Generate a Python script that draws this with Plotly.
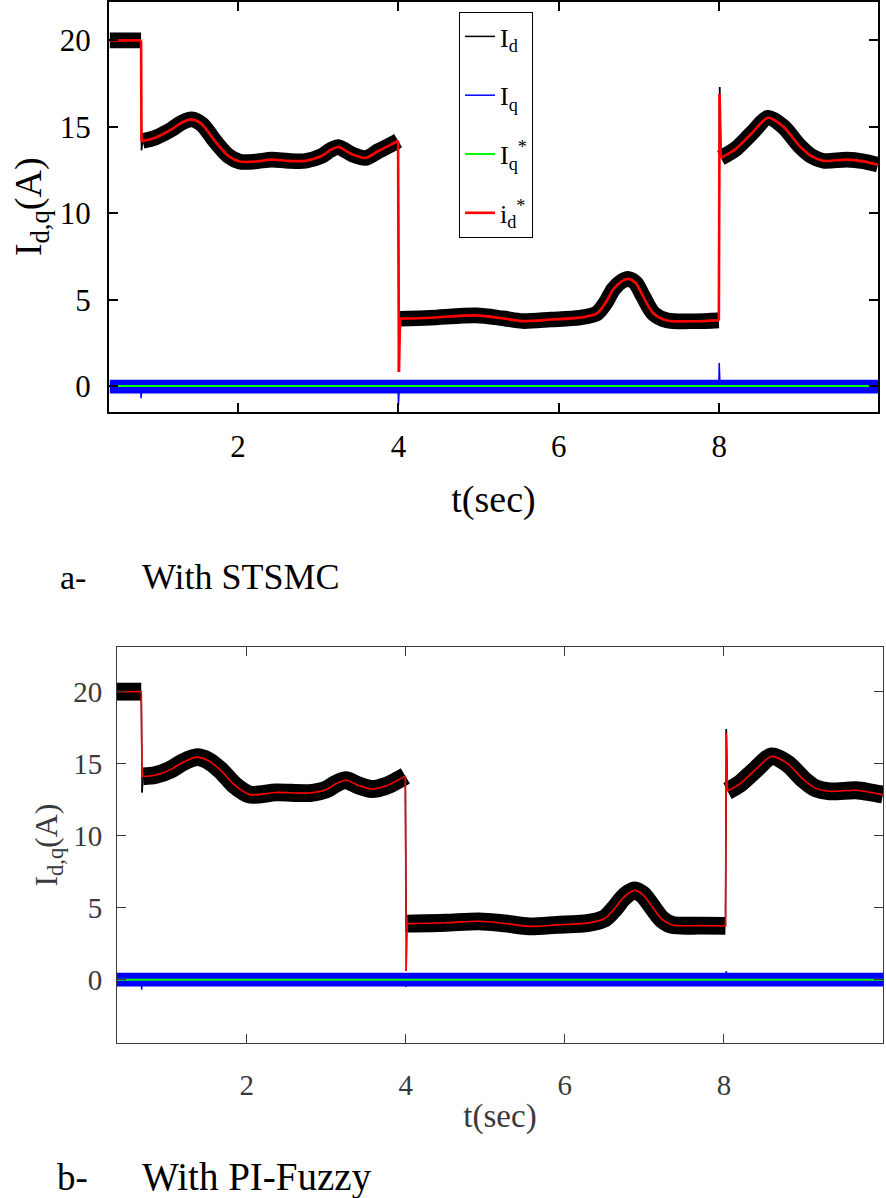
import plotly.graph_objects as go

# ---------------- Panel a : With STSMC ----------------
ta = [0.40, 0.790, 0.795, 0.81, 0.965, 1.17, 1.30, 1.42, 1.55, 1.71, 1.88, 2.02, 2.21, 2.42, 2.63,
      2.84, 3.04, 3.15, 3.25, 3.42, 3.59, 3.75, 3.90, 3.995, 4.005, 4.02, 4.40, 4.97, 5.30,
      5.55, 5.90, 6.26, 6.47, 6.58, 6.68, 6.78, 6.87, 6.96, 7.05, 7.18, 7.35, 7.70, 7.995,
      8.005, 8.02, 8.20, 8.40, 8.61, 8.80, 9.00, 9.15, 9.30, 9.59, 9.80, 9.98]
ida_ref = [20.0, 20.0, 14.15, 14.18, 14.37, 14.85, 15.25, 15.43, 15.14, 14.18, 13.31, 12.99, 12.99, 13.1, 13.03,
           13.03, 13.31, 13.65, 13.83, 13.41, 13.2, 13.6, 13.95, 14.2, 0.82, 3.9, 3.95, 4.09, 3.92,
           3.76, 3.85, 3.96, 4.19, 4.8, 5.6, 6.05, 6.2, 5.95, 5.2, 4.2, 3.8, 3.75, 3.8,
           16.9, 13.2, 13.7, 14.6, 15.52, 15.0, 13.9, 13.3, 13.03, 13.1, 13.0, 12.8]
ida_meas = [20.0, 20.0, 13.65, 14.18, 14.37, 14.85, 15.25, 15.43, 15.14, 14.18, 13.31, 12.99, 12.99, 13.1, 13.03,
            13.03, 13.31, 13.65, 13.83, 13.41, 13.2, 13.6, 13.95, 14.2, 3.5, 3.9, 3.95, 4.09, 3.92,
            3.76, 3.85, 3.96, 4.19, 4.8, 5.6, 6.05, 6.2, 5.95, 5.2, 4.2, 3.8, 3.75, 3.8,
            17.3, 13.2, 13.7, 14.6, 15.52, 15.0, 13.9, 13.3, 13.03, 13.1, 13.0, 12.8]
ida_band = 0.45          # half-width of the measured (noisy) Id ribbon, in A
tqa = [0.40, 0.785, 0.79, 0.80, 3.995, 4.0, 4.01, 7.995, 8.0, 8.01, 9.98]
iqa = [-0.03, -0.03, -0.7, -0.03, -0.03, -1.1, -0.03, -0.03, 1.34, -0.03, -0.03]
iqa_band = 0.40
iqa_ref_t = [0.40, 9.98]
iqa_ref = [0.0, 0.0]

# ---------------- Panel b : With PI-Fuzzy ----------------
tb = [0.37, 0.675, 0.685, 0.70, 0.85, 1.05, 1.20, 1.38, 1.52, 1.68, 1.85, 2.04, 2.37, 2.79, 3.00,
      3.12, 3.25, 3.40, 3.57, 3.75, 3.90, 3.995, 4.005, 4.02, 4.50, 4.92, 5.25, 5.55, 5.90,
      6.30, 6.50, 6.62, 6.72, 6.80, 6.88, 6.98, 7.08, 7.22, 7.35, 7.70, 8.02, 8.03, 8.045,
      8.20, 8.40, 8.60, 8.80, 9.00, 9.15, 9.33, 9.66, 9.85, 10.0]
idb_ref = [20.0, 20.0, 14.1, 14.12, 14.2, 14.6, 15.1, 15.45, 15.2, 14.5, 13.5, 12.85, 13.0, 12.96, 13.2,
           13.6, 13.85, 13.5, 13.24, 13.45, 13.85, 14.15, 0.6, 3.89, 3.95, 4.05, 3.9, 3.7, 3.8,
           3.94, 4.25, 4.9, 5.6, 6.0, 6.2, 5.9, 5.2, 4.2, 3.8, 3.75, 3.73, 17.13, 13.1,
           13.6, 14.6, 15.5, 15.0, 13.9, 13.3, 13.08, 13.15, 13.0, 12.85]
idb_meas = [20.0, 20.0, 13.0, 14.12, 14.2, 14.6, 15.1, 15.45, 15.2, 14.5, 13.5, 12.85, 13.0, 12.96, 13.2,
            13.6, 13.85, 13.5, 13.24, 13.45, 13.85, 14.15, 3.3, 3.89, 3.95, 4.05, 3.9, 3.7, 3.8,
            3.94, 4.25, 4.9, 5.6, 6.0, 6.2, 5.9, 5.2, 4.2, 3.8, 3.75, 3.73, 17.4, 13.1,
            13.6, 14.6, 15.5, 15.0, 13.9, 13.3, 13.08, 13.15, 13.0, 12.85]
idb_band = 0.62
tqb = [0.37, 0.675, 0.68, 0.69, 3.995, 4.0, 4.01, 8.02, 8.03, 8.04, 10.0]
iqb = [0.0, 0.0, -0.7, 0.0, 0.0, -0.5, 0.0, 0.0, 0.6, 0.0, 0.0]
iqb_band = 0.48
iqb_ref_t = [0.37, 10.0]
iqb_ref = [0.0, 0.0]

SERIF = "Liberation Serif, Times New Roman, serif"
W, H = 886, 1198

# panel geometry (pixels of the page)
PA = dict(x0=109, x1=878, y0=1.5, y1=412, xr=[0.39, 9.98], yr=[-1.5, 22.25])
PB = dict(x0=117, x1=883, y0=647, y1=1043, xr=[0.37, 10.0], yr=[-4.4, 23.1])


def segments(t, v, thr=0.02):
    """Split a trace into smooth pieces and the (near-vertical) jumps between them."""
    smooth, jumps = [], []
    cur = [(t[0], v[0])]
    for i in range(len(t) - 1):
        if t[i + 1] - t[i] < thr:
            if len(cur) > 1:
                smooth.append(cur)
            jumps.append([(t[i], v[i]), (t[i + 1], v[i + 1])])
            cur = [(t[i + 1], v[i + 1])]
        else:
            cur.append((t[i + 1], v[i + 1]))
    if len(cur) > 1:
        smooth.append(cur)
    return smooth, jumps


def join(pieces):
    xs, ys = [], []
    for p in pieces:
        xs += [a for a, _ in p] + [None]
        ys += [b for _, b in p] + [None]
    return xs, ys


fig = go.Figure()


def add_panel(P, t, ref, meas, bw, tq, iq, qbw, tqr, iqr, xa, ya, show, redw):
    ppu = (P["y1"] - P["y0"]) / (P["yr"][1] - P["yr"][0])   # pixels per amp
    sm, jp = segments(t, meas)
    bx, by = join(sm)
    qx, qy = [tq[0], tq[-1]], [iq[0], iq[-1]]
    fig.add_trace(go.Scatter(x=bx, y=by, mode="lines", line=dict(color="black", width=2 * bw * ppu,
                             shape="spline", smoothing=0.8), xaxis=xa, yaxis=ya,
                             legendgroup="id", showlegend=False, hoverinfo="skip"))
    fig.add_trace(go.Scatter(x=qx, y=qy, mode="lines",
                             line=dict(color="#0000FF", width=2 * qbw * ppu), xaxis=xa, yaxis=ya,
                             legendgroup="iq", showlegend=False, hoverinfo="skip"))
    mx, my = join(sm + jp)
    fig.add_trace(go.Scatter(x=mx, y=my, mode="lines", name="I<sub>d</sub>",
                             line=dict(color="black", width=1.5, shape="spline", smoothing=0.8),
                             xaxis=xa, yaxis=ya, legendgroup="id", showlegend=show))
    fig.add_trace(go.Scatter(x=tq, y=iq, mode="lines", name="I<sub>q</sub>",
                             line=dict(color="#0000FF", width=1.5), xaxis=xa, yaxis=ya,
                             legendgroup="iq", showlegend=show))
    fig.add_trace(go.Scatter(x=tqr, y=iqr, mode="lines", name="I<sub>q</sub><sup>*</sup>",
                             line=dict(color="#00FF00", width=2), xaxis=xa, yaxis=ya,
                             legendgroup="iqs", showlegend=show))
    rs, rj = segments(t, ref)
    rx, ry = join(rs + rj)
    fig.add_trace(go.Scatter(x=rx, y=ry, mode="lines", name="i<sub>d</sub><sup>*</sup>",
                             line=dict(color="#FF0000", width=redw, shape="spline", smoothing=0.8),
                             xaxis=xa, yaxis=ya, legendgroup="ids", showlegend=show))


add_panel(PA, ta, ida_ref, ida_meas, ida_band, tqa, iqa, iqa_band, iqa_ref_t, iqa_ref, "x", "y", True, 2.6)
add_panel(PB, tb, idb_ref, idb_meas, idb_band, tqb, iqb, iqb_band, iqb_ref_t, iqb_ref, "x2", "y2", False, 1.6)


def ax(dom, rng, tv, col, lw, tfs, title, title_fs, standoff, tls, anchor):
    return dict(domain=dom, range=rng, tickvals=tv, ticks="inside", ticklen=9, tickwidth=lw,
                tickcolor=col, showline=True, linecolor=col, linewidth=lw, mirror="ticks",
                showgrid=False, zeroline=False, anchor=anchor,
                tickfont=dict(family=SERIF, size=tfs, color=col), ticklabelstandoff=tls,
                title=dict(text=title, font=dict(family=SERIF, size=title_fs, color=col),
                           standoff=standoff))


fig.update_layout(
    width=W, height=H, margin=dict(l=0, r=0, t=0, b=0),
    paper_bgcolor="white", plot_bgcolor="white",
    xaxis=ax([PA["x0"] / W, PA["x1"] / W], PA["xr"], [2, 4, 6, 8], "black", 2, 31, "t(sec)", 38, 22, 6, "y"),
    yaxis=ax([1 - PA["y1"] / H, 1 - PA["y0"] / H], PA["yr"], [0, 5, 10, 15, 20], "black", 2, 31,
             "I<sub>d,q</sub>(A)", 38, 6, 10, "x"),
    xaxis2=ax([PB["x0"] / W, PB["x1"] / W], PB["xr"], [2, 4, 6, 8], "#3a3a3a", 1, 29, "t(sec)", 33, 4, 16, "y2"),
    yaxis2=ax([1 - PB["y1"] / H, 1 - PB["y0"] / H], PB["yr"], [0, 5, 10, 15, 20], "#3a3a3a", 1, 29,
              "I<sub>d,q</sub>(A)", 32, 6, 8, "x2"),
    showlegend=True,
    legend=dict(x=459 / W, y=1 - 12 / H, xanchor="left", yanchor="top", bgcolor="white",
                bordercolor="black", borderwidth=1, tracegroupgap=22,
                font=dict(family=SERIF, size=26, color="black")),
)

for txt, px, py, fs in [("a-", 58, 577, 34), ("With STSMC", 140, 577, 36),
                        ("b-", 55, 1177, 37), ("With PI-Fuzzy", 140, 1177, 39)]:
    fig.add_annotation(text=txt, x=px / W, y=1 - py / H, xref="paper", yref="paper",
                       xanchor="left", yanchor="middle", showarrow=False,
                       font=dict(family=SERIF, size=fs, color="black"))

fig.write_html("out.html", config={"displayModeBar": False},
               post_script="document.body.style.margin='0';document.body.style.overflow='hidden';")
